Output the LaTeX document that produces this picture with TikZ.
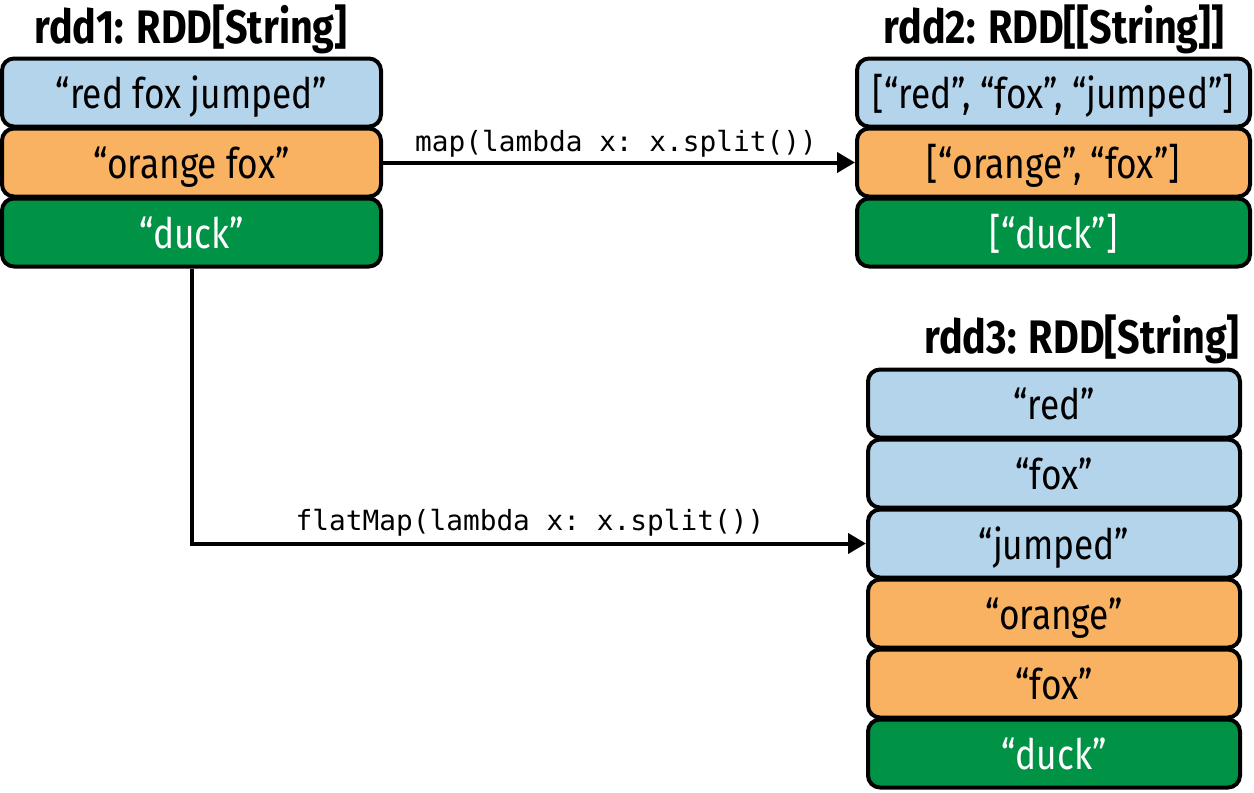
\documentclass[tikz,border=0pt]{standalone}
\usepackage{fontspec}
\setmainfont{Fira Sans}[FakeStretch=0.84]
\setmonofont{DejaVu Sans Mono}
\usetikzlibrary{arrows.meta}
\definecolor{cblue}{HTML}{B4D4EC}
\definecolor{corange}{HTML}{F9B262}
\definecolor{cgreen}{HTML}{009245}
\tikzset{
  cell/.style={draw=black, line width=2pt, rounded corners=6pt, minimum height=34pt,
    inner sep=0pt, font=\fontsize{21}{23}\selectfont, text height=17pt, text depth=1pt},
  bluecell/.style={cell, fill=cblue, text=black},
  orangecell/.style={cell, fill=corange, text=black},
  greencell/.style={cell, fill=cgreen, text=white},
  ttl/.style={font=\fontsize{23.5}{26}\selectfont\bfseries, inner sep=0pt, anchor=base},
  code/.style={font=\ttfamily\fontsize{13.9}{15}\selectfont, inner sep=0pt, anchor=base},
  conn/.style={line width=2pt, -{Triangle[length=9pt,width=10pt]}}
}
\begin{document}
\begin{tikzpicture}[x=0.5pt,y=-0.5pt]
\useasboundingbox (0,0) rectangle (1254,793);
% rdd1
\node[ttl] (t1) at (191,43) {rdd1: RDD[String]};
\node[bluecell, minimum width=189.5pt] (a1) at (191.5,92.5) {“red fox jumped”};
\node[orangecell, minimum width=189.5pt] (a2) at (191.5,162.5) {“orange fox”};
\node[greencell, minimum width=189.5pt] (a3) at (191.5,232.5) {“duck”};
% rdd2
\node[ttl] (t2) at (1054,43) {rdd2: RDD[[String]]};
\node[bluecell, minimum width=196.5pt] (b1) at (1053.5,92.5) {[“red”, “fox”, “jumped”]};
\node[orangecell, minimum width=196.5pt] (b2) at (1053.5,162.5) {[“orange”, “fox”]};
\node[greencell, minimum width=196.5pt] (b3) at (1053.5,232.5) {[“duck”]};
% rdd3
\node[ttl, anchor=base east] (t3) at (1240,353) {rdd3: RDD[String]};
\node[bluecell, minimum width=186pt] (c1) at (1054,403.5) {“red”};
\node[bluecell, minimum width=186pt] (c2) at (1054,473.5) {“fox”};
\node[bluecell, minimum width=186pt] (c3) at (1054,543.5) {“jumped”};
\node[orangecell, minimum width=186pt] (c4) at (1054,613.5) {“orange”};
\node[orangecell, minimum width=186pt] (c5) at (1054,683.5) {“fox”};
\node[greencell, minimum width=186pt] (c6) at (1054,753.5) {“duck”};
% connectors
\draw[conn] (a2.east) -- (b2.west);
\node[code] (l1) at (616,151) {map(lambda x: x.split())};
\coordinate (k) at (a3.south |- c3.west);
\draw[conn] (a3.south) -- (k) -- (c3.west);
\node[code] (l2) at (530,530) {flatMap(lambda x: x.split())};
\end{tikzpicture}
\end{document}
